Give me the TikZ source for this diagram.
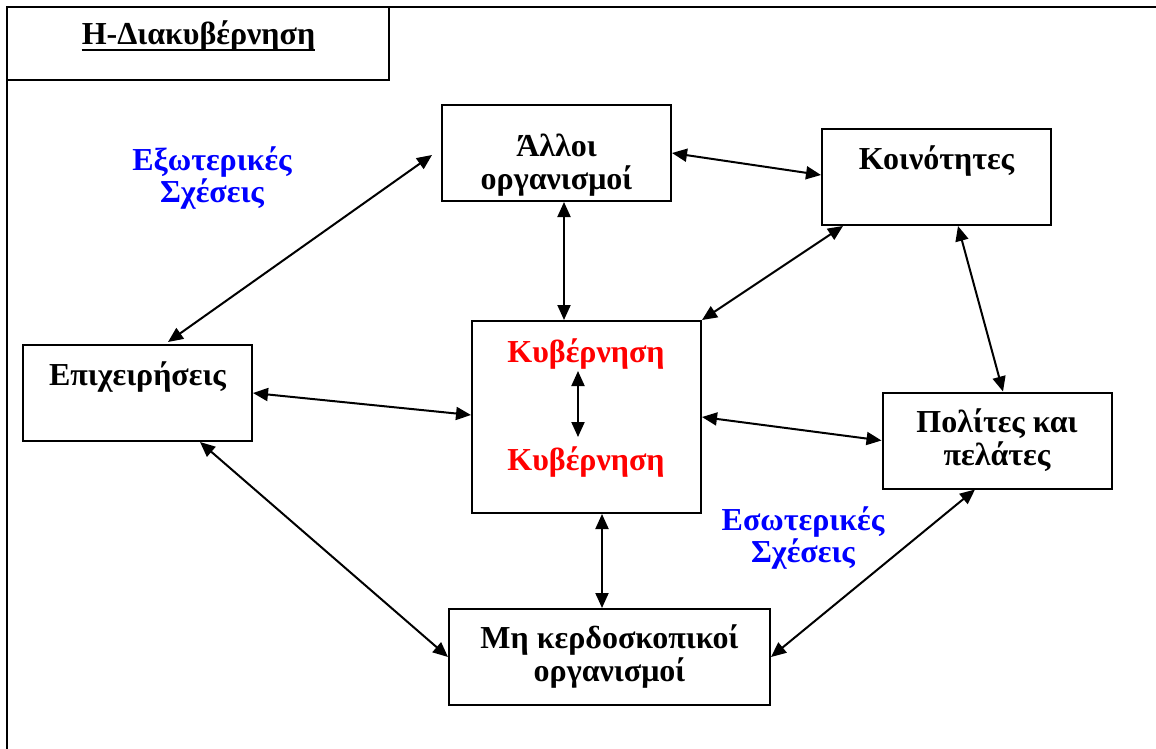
\documentclass[tikz,border=0pt]{standalone}
\usepackage{fontspec}
\setmainfont{Liberation Serif}
\usetikzlibrary{arrows.meta}

\begin{document}
\begin{tikzpicture}[x=1pt,y=-1pt,>={Triangle[length=15pt,width=13pt]},
  every node/.style={font=\fontsize{32}{33}\selectfont\bfseries},
  box/.style={draw,line width=2pt,minimum width=229pt,minimum height=96pt,inner sep=0pt,align=center},
  onebox/.style={box,text height=24pt,text depth=39pt},
  link/.style={<->,line width=2pt},
  govtext/.style={text=red,inner sep=0pt,anchor=base},
  relation/.style={text=blue,align=center,font=\fontsize{32}{30}\selectfont\bfseries}]
\clip (0,0) rectangle (1156,749);

% frame and title
\draw[line width=2.5pt] (7,7) rectangle (1190,790);
\node[draw,line width=2pt,minimum width=382pt,minimum height=73pt] (title) at (198,44) {};
\node[inner sep=0pt,anchor=base] (titletext) at (198.5,45) {Η-Διακυβέρνηση};
\draw[line width=2.5pt] ([yshift=-5pt]titletext.base west) -- ([yshift=-5pt]titletext.base east);

% boxes
\node[box] (allo) at (556.5,153) {\rule{0pt}{46pt}Άλλοι\\οργανισμοί};
\node[onebox] (koin) at (936.5,177) {Κοινότητες};
\node[onebox] (epix) at (137.5,393) {Επιχειρήσεις};
\node[box,minimum height=192pt] (kyv) at (586.5,417) {};
\node[govtext] (kyvA) at (586,362) {Κυβέρνηση};
\node[govtext] (kyvB) at (586,470) {Κυβέρνηση};
\node[box] (polit) at (997,440.5) {Πολίτες και\\πελάτες};
\node[box,minimum width=321pt] (mkerd) at (609.5,657) {Μη κερδοσκοπικοί\\οργανισμοί};

% relations
\node[relation] (exo) at (212,178) {Εξωτερικές\\Σχέσεις};
\node[relation] (eso) at (803,538) {Εσωτερικές\\Σχέσεις};

% links
\draw[link] ([xshift=30.5pt,yshift=2pt]epix.north) -- ([xshift=-9pt,yshift=-2pt]allo.west);
\draw[link] (allo.east) -- ([yshift=2pt]koin.west);
\draw[link] ([xshift=7.5pt]allo.south) -- ([xshift=-22.5pt]kyv.north);
\draw[link] ([xshift=-93.5pt]koin.south) -- (kyv.north east);
\draw[link] ([xshift=21.5pt]koin.south) -- ([xshift=6pt]polit.north);
\draw[link] (epix.east) -- ([yshift=2pt]kyv.west);
\draw[link] (kyv.east) -- (polit.west);
\draw[link] ([xshift=62.5pt]epix.south) -- (mkerd.west);
\draw[link] ([xshift=15.5pt]kyv.south) -- ([xshift=-7.5pt]mkerd.north);
\draw[link] ([xshift=-22pt]polit.south) -- (mkerd.east);
\draw[link] ([xshift=-8pt,yshift=-2pt]kyvA.south) -- ([xshift=-8pt,yshift=9pt]kyvB.north);
\end{tikzpicture}
\end{document}
